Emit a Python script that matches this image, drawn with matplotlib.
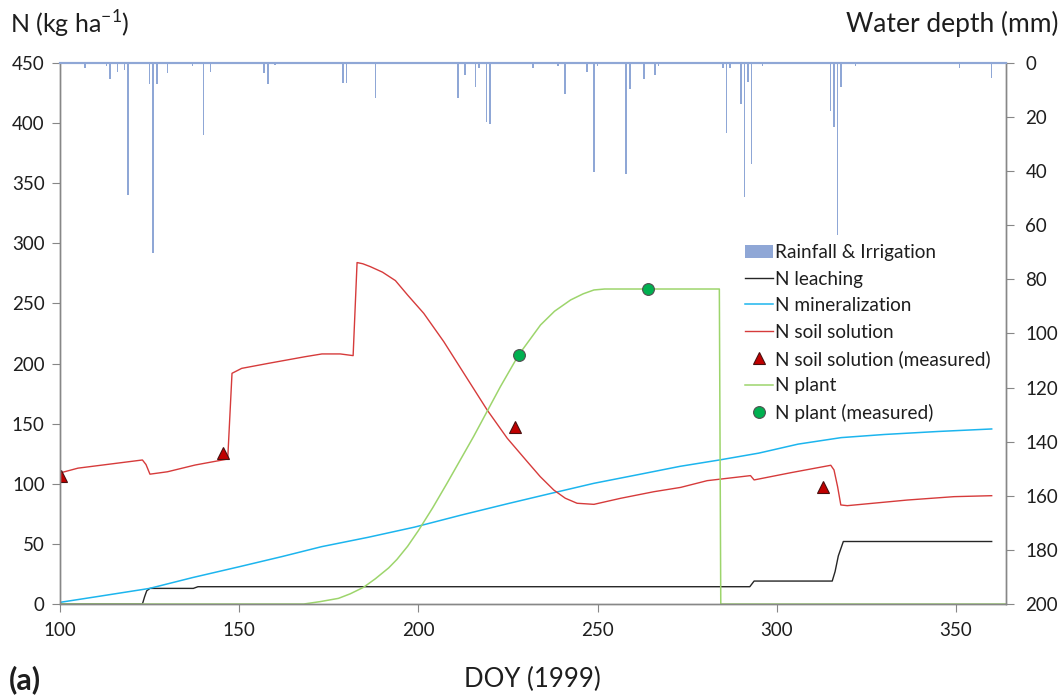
import numpy as np
import matplotlib
matplotlib.use("Agg")
import matplotlib.pyplot as plt
from matplotlib.patches import Patch
from matplotlib.lines import Line2D

plt.rcParams['font.family'] = ['Lato', 'DejaVu Sans']

# --- data ---
rain_doy = [107, 113, 114, 116, 118, 119, 125, 126, 127, 130, 137, 140, 142, 157, 158, 160,
            179, 180, 188, 210, 211, 213, 216, 217, 219, 220, 232, 239, 241, 247, 249, 250,
            258, 259, 263, 266, 267, 285, 286, 287, 290, 291, 292, 293, 296, 315, 316, 317,
            318, 322, 351, 360]
rain_mm = [1.7, 1.0, 5.9, 3.5, 2.6, 48.8, 7.9, 70.4, 7.9, 3.8, 1.1, 26.6, 3.5, 3.8, 7.9, 0.7,
           7.4, 7.4, 13.0, 0.5, 13.0, 4.4, 9.0, 1.7, 21.9, 22.7, 2.0, 1.0, 11.6, 3.2, 40.2, 1.0,
           41.0, 9.7, 6.0, 4.4, 1.0, 2.0, 26.0, 2.0, 15.3, 49.7, 7.1, 37.3, 1.3, 17.7, 23.8, 63.6,
           9.0, 1.0, 1.7, 5.4]

leach_doy = [100, 123, 123.6, 124.2, 125.1, 137.2, 138.5, 292.5, 293.7, 315.5, 316.3, 317.2, 318.6, 360]
leach_n = [0, 0, 6, 11, 13, 13, 14.4, 14.4, 19.1, 19.1, 27, 40, 52, 52]

miner_doy = [100, 110, 125, 137, 150, 162, 173, 186, 199, 212, 225, 237, 249, 262, 273, 284,
             295, 306, 318, 330, 345, 360]
miner_n = [1.4, 6, 13, 22, 31, 39.5, 47.7, 55.5, 64, 74, 83.5, 92, 100.4, 108, 114.5, 119.8,
           125.5, 133, 138.4, 141, 143.5, 145.6]

soil_doy = [100, 105, 123, 124, 125.1, 130, 137.7, 146.8, 148, 150.7, 158.2, 168.4, 173.1,
            178.2, 181.8, 182.9, 184.5, 186.6, 190, 193.6, 197, 201.5, 207.1, 212.7, 219.2,
            224.8, 230.4, 234, 237.8, 241, 244.3, 249, 256.4, 265.7, 273.2, 280.6, 292.7, 293.7,
            303.9, 315.1, 316, 317, 317.9, 319.7, 336.5, 349.5, 360]
soil_n = [109, 113, 119.8, 116, 108, 110, 115.6, 120.6, 191.9, 196, 200.2, 205.7, 208,
          208, 206.6, 284, 283, 280.6, 276, 269, 257, 241.8, 218.2, 191.9, 161.4,
          137.9, 118.4, 106, 94.8, 88, 83.8, 82.9, 87.9, 93.4, 97, 102.6, 106.8, 103.2,
          109.2, 115.4, 111.5, 97.6, 82.4, 81.8, 86.5, 89.3, 90.1]

soil_meas_doy = [100.3, 145.4, 227.1, 312.9]
soil_meas_n = [106.5, 125.3, 147, 97.6]

plant_doy = [100, 168, 172.6, 177.7, 181, 184.7, 188, 191.7, 194, 197, 200, 204, 208,
             215.4, 222.9, 228, 234.1, 238, 242.5, 246, 249, 252, 284, 284.4, 364]
plant_n = [0, 0, 2, 4.7, 8.5, 13.9, 21, 30, 37, 48, 61, 80, 100.4,
           139.2, 180.8, 207.2, 232.1, 243.5, 252.9, 258, 261.2, 262, 262, 0, 0]

plant_meas_doy = [228, 264.1]
plant_meas_n = [207.2, 261.8]

# --- styles ---
c_bar = '#8FA7D6'
c_leach = '#262626'
c_miner = '#1CB5EE'
c_soil = '#D63B3B'
c_plant = '#9DD56C'
c_spine = '#878787'
c_text = '#1e1e1e'

fig = plt.figure(figsize=(10.64, 6.95), dpi=100)
ax = fig.add_axes([0.0564, 0.1309, 0.8891, 0.7785])
ax2 = ax.twinx()

ax.plot(leach_doy, leach_n, color=c_leach, lw=1.0)
ax.plot(miner_doy, miner_n, color=c_miner, lw=1.1)
ax.plot(soil_doy, soil_n, color=c_soil, lw=1.0)
ax.plot(plant_doy, plant_n, color=c_plant, lw=1.1)
ax.plot(soil_meas_doy, soil_meas_n, ls='none', marker='^', ms=9, mfc='#C00000', mec='#4a1010', mew=0.8)
ax.plot(plant_meas_doy, plant_meas_n, ls='none', marker='o', ms=8.5, mfc='#00B050', mec='#505050', mew=0.8)

ax2.bar(rain_doy, rain_mm, width=0.45, color=c_bar, linewidth=0)

ax.set_xlim(100, 364)
ax.set_ylim(0, 450)
ax.set_xticks(range(100, 351, 50))
ax.set_yticks(range(0, 451, 50))
ax2.set_ylim(200, 0)
ax2.set_yticks(range(0, 201, 20))

for a in (ax, ax2):
    for s in ('left', 'right', 'bottom'):
        a.spines[s].set_color(c_spine)
        a.spines[s].set_linewidth(1.0)
    a.spines['top'].set_color(c_bar)
    a.spines['top'].set_linewidth(1.5)
ax.tick_params(axis='both', direction='out', length=6, width=0.8, color=c_spine,
               labelsize=13.5, labelcolor=c_text)
ax.tick_params(axis='y', pad=5)
ax.tick_params(axis='x', pad=7)
ax2.tick_params(axis='y', direction='out', length=6, width=0.8, color=c_spine,
                labelsize=13.5, labelcolor=c_text, pad=8)

fig.text(0.009, 0.965, r'N (kg ha$^{\mathregular{-1}}$)', fontsize=18, color=c_text, va='center', ha='left')
fig.text(0.995, 0.965, 'Water depth (mm)', fontsize=19, color=c_text, va='center', ha='right')
fig.text(0.5, 0.022, 'DOY (1999)', fontsize=18.5, color=c_text, va='center', ha='center')
fig.text(0.008, 0.022, '(a)', fontsize=22, color=c_text, va='center', ha='left', fontweight='bold')

handles = [
    Patch(facecolor=c_bar, edgecolor='none'),
    Line2D([], [], color=c_leach, lw=1.0),
    Line2D([], [], color=c_miner, lw=1.1),
    Line2D([], [], color=c_soil, lw=1.0),
    Line2D([], [], ls='none', marker='^', ms=9, mfc='#C00000', mec='#4a1010', mew=0.8),
    Line2D([], [], color=c_plant, lw=1.1),
    Line2D([], [], ls='none', marker='o', ms=8.5, mfc='#00B050', mec='#505050', mew=0.8),
]
labels = ['Rainfall & Irrigation', 'N leaching', 'N mineralization', 'N soil solution',
          'N soil solution (measured)', 'N plant', 'N plant (measured)']
leg = ax2.legend(handles, labels, loc='upper left', bbox_to_anchor=(745 / 1064, 1 - 244 / 695),
                 bbox_transform=fig.transFigure, frameon=False, fontsize=13.7, handlelength=1.45,
                 handletextpad=0.12, labelspacing=0.5, borderpad=0, borderaxespad=0, numpoints=1)
for t in leg.get_texts():
    t.set_color(c_text)

fig.savefig('out.png', dpi=100)
